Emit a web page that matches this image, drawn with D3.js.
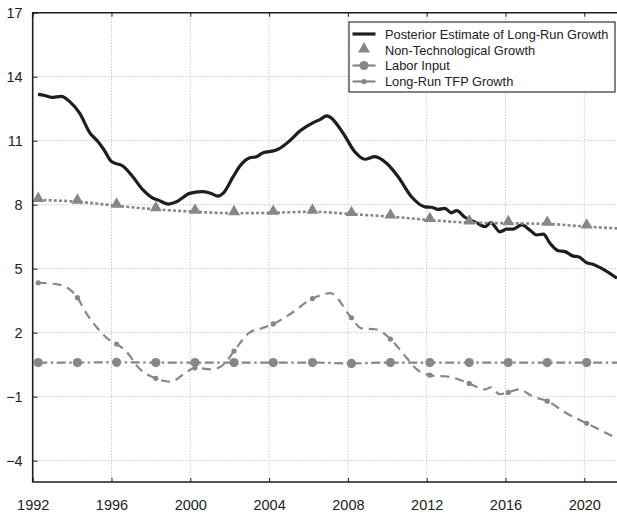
<!DOCTYPE html>
<html>
<head>
<meta charset="utf-8">
<script src="https://cdn.jsdelivr.net/npm/d3@7"></script>
<style>
  html, body { margin: 0; padding: 0; background: #fff; }
  svg { display: block; font-family: "Liberation Sans", Arial, sans-serif; }
</style>
</head>
<body>
<svg id="chart" width="617" height="513"></svg>
<script>
// Axis ticks
const yearTicks = [1992, 1996, 2000, 2004, 2008, 2012, 2016, 2020];
const valueTicks = [-4, -1, 2, 5, 8, 11, 14, 17];

// Posterior estimate of long-run growth
const posteriorYears = [1992.27, 1992.6, 1992.95, 1993.46, 1993.88, 1994.39, 1994.9, 1995.32, 1995.6, 1996.0,
  1996.59, 1997.01, 1997.6, 1998.11, 1998.36, 1998.87, 1999.3, 1999.97, 2000.57, 2000.99,
  2001.41, 2001.66, 2002.17, 2002.51, 2003.02, 2003.36, 2003.7, 2004.29, 2004.54, 2005.05,
  2005.56, 2006.24, 2006.6, 2006.92, 2007.1, 2007.76, 2008.35, 2008.86, 2009.37, 2009.96,
  2010.55, 2011.23, 2011.91, 2012.25, 2012.58, 2012.92, 2013.26, 2013.52, 2013.94, 2014.53,
  2014.96, 2015.25, 2015.72, 2016.06, 2016.39, 2016.82, 2017.24, 2017.58, 2017.92, 2018.26,
  2018.68, 2019.02, 2019.44, 2019.7, 2020.12, 2020.46, 2020.97, 2021.66];
const posteriorValues = [13.17, 13.12, 13.03, 13.08, 12.83, 12.28, 11.37, 10.95, 10.6, 10.02,
  9.8, 9.39, 8.69, 8.3, 8.22, 8.03, 8.14, 8.53, 8.61, 8.55,
  8.4, 8.53, 9.3, 9.8, 10.2, 10.25, 10.44, 10.54, 10.64, 11.0,
  11.45, 11.85, 12.0, 12.16, 12.1, 11.35, 10.48, 10.13, 10.25, 9.94,
  9.31, 8.37, 7.9, 7.88, 7.78, 7.83, 7.62, 7.72, 7.41, 7.16,
  6.97, 7.16, 6.73, 6.85, 6.85, 7.05, 6.81, 6.58, 6.62, 6.19,
  5.84, 5.8, 5.59, 5.56, 5.28, 5.2, 4.97, 4.55];

// Marker positions shared by the gray series
const markerYears = [1992.28, 1994.27, 1996.26, 1998.25, 2000.24, 2002.22, 2004.21, 2006.2,
  2008.18, 2010.16, 2012.16, 2014.16, 2016.14, 2018.12, 2020.12];
const endYear = 2021.66;

// Non-technological growth (at marker years, then series end)
const nonTechValues = [8.22, 8.14, 7.95, 7.78, 7.67, 7.6, 7.62, 7.67, 7.56, 7.44, 7.28, 7.16, 7.13, 7.1, 6.97];
const nonTechEnd = 6.89;

// Labor input (at marker years, then series end)
const laborValues = [0.6, 0.6, 0.61, 0.6, 0.6, 0.6, 0.6, 0.6, 0.56, 0.6, 0.6, 0.6, 0.6, 0.6, 0.6];
const laborEnd = 0.6;

// Long-run TFP growth
const tfpYears = [1992.25, 1993.0, 1993.55, 1994.27, 1994.7, 1995.3, 1995.9, 1996.26, 1996.75, 1997.4,
  1998.25, 1999.0, 1999.8, 2000.24, 2001.1, 2001.75, 2002.22, 2003.0, 2003.6, 2004.21,
  2005.0, 2006.2, 2007.1, 2008.18, 2008.7, 2009.4, 2010.16, 2011.0, 2011.5, 2012.16,
  2013.25, 2014.16, 2014.95, 2015.25, 2015.7, 2016.14, 2016.7, 2017.4, 2018.12, 2019.1,
  2020.12, 2021.66];
const tfpValues = [4.34, 4.3, 4.2, 3.64, 2.94, 2.2, 1.65, 1.47, 1.12, 0.33,
  -0.14, -0.3, 0.15, 0.35, 0.28, 0.56, 1.14, 2.0, 2.2, 2.41,
  2.83, 3.6, 3.85, 2.7, 2.2, 2.16, 1.7, 0.8, 0.28, 0.01,
  -0.09, -0.38, -0.66, -0.56, -0.88, -0.8, -0.66, -1.0, -1.21, -1.78,
  -2.25, -2.95];
const tfpMarkerValues = [4.34, 3.64, 1.47, -0.14, 0.35, 1.14, 2.41, 3.6, 2.7, 1.7, 0.01, -0.38, -0.8, -1.21, -2.25];

const legendLabels = ["Posterior Estimate of Long-Run Growth", "Non-Technological Growth", "Labor Input", "Long-Run TFP Growth"];

const GRAY = "#878787";
const INK = "#1e1e1e";

const svg = d3.select("#chart");
const plotLeft = 32.7, plotTop = 12.7, plotRight = 617, plotBottom = 482;

const x = d3.scaleLinear().domain([1992, endYear]).range([plotLeft, plotRight]);
const y = d3.scaleLinear().domain([-5, 17]).range([plotBottom, plotTop]);

// Grid
const grid = svg.append("g").attr("stroke", "#b4b4b4").attr("stroke-width", 1).attr("stroke-dasharray", "1,2");
grid.selectAll("line.v").data(yearTicks.slice(1)).join("line")
  .attr("x1", d => x(d)).attr("x2", d => x(d)).attr("y1", plotTop).attr("y2", plotBottom);
grid.selectAll("line.h").data(valueTicks.filter(d => d < 17)).join("line")
  .attr("x1", plotLeft).attr("x2", plotRight).attr("y1", d => y(d)).attr("y2", d => y(d));

// Axes
const xAxis = svg.append("g").attr("transform", `translate(0,${plotBottom})`)
  .call(d3.axisBottom(x).tickValues(yearTicks).tickFormat(d3.format("d")).tickSize(-4).tickPadding(18));
const xTop = svg.append("g").attr("transform", `translate(0,${plotTop})`)
  .call(d3.axisTop(x).tickValues(yearTicks).tickFormat("").tickSize(-4));
const yAxis = svg.append("g").attr("transform", `translate(${plotLeft},0)`)
  .call(d3.axisLeft(y).tickValues(valueTicks).tickFormat(d3.format("d")).tickSize(-5).tickPadding(10));
[xAxis, xTop, yAxis].forEach(g => {
  g.select(".domain").remove();
  g.selectAll(".tick line").attr("stroke", INK).attr("stroke-width", 1);
  g.selectAll(".tick text").attr("fill", "#222").style("font-size", "14.5px")
    .style("font-family", "'Liberation Sans', Arial, sans-serif");
});

// Series lines
const line = d3.line().x(d => x(d[0])).y(d => y(d[1])).curve(d3.curveMonotoneX);
const plot = svg.append("g");

plot.append("path")
  .datum(posteriorYears.map((t, i) => [t, posteriorValues[i]]))
  .attr("d", line).attr("fill", "none").attr("stroke", INK).attr("stroke-width", 3.2)
  .attr("stroke-linejoin", "round");

const nonTechPts = markerYears.map((t, i) => [t, nonTechValues[i]]).concat([[endYear, nonTechEnd]]);
plot.append("path").datum(nonTechPts).attr("d", line)
  .attr("fill", "none").attr("stroke", GRAY).attr("stroke-width", 2.6).attr("stroke-dasharray", "3,2.2");

const laborPts = markerYears.map((t, i) => [t, laborValues[i]]).concat([[endYear, laborEnd]]);
plot.append("path").datum(laborPts).attr("d", line)
  .attr("fill", "none").attr("stroke", GRAY).attr("stroke-width", 2.2).attr("stroke-dasharray", "9,3.5,2.5,3.5");

plot.append("path").datum(tfpYears.map((t, i) => [t, tfpValues[i]])).attr("d", line)
  .attr("fill", "none").attr("stroke", GRAY).attr("stroke-width", 2.2).attr("stroke-dasharray", "9,6");

// Markers
const tri = d3.symbol().type(d3.symbolTriangle).size(62);
plot.selectAll("path.tri").data(markerYears.map((t, i) => [t, nonTechValues[i]])).join("path")
  .attr("transform", d => `translate(${x(d[0])},${y(d[1]) - 1.5})`).attr("d", tri).attr("fill", GRAY);
plot.selectAll("circle.lab").data(markerYears.map((t, i) => [t, laborValues[i]])).join("circle")
  .attr("cx", d => x(d[0])).attr("cy", d => y(d[1])).attr("r", 4.6).attr("fill", GRAY);
plot.selectAll("circle.tfp").data(markerYears.map((t, i) => [t, tfpMarkerValues[i]])).join("circle")
  .attr("cx", d => x(d[0])).attr("cy", d => y(d[1])).attr("r", 2.6).attr("fill", GRAY);

// Frame
svg.append("path")
  .attr("d", `M${plotRight},${plotTop}H${plotLeft}V${plotBottom}H${plotRight}`)
  .attr("fill", "none").attr("stroke", INK).attr("stroke-width", 1.6);

// Legend
const lg = svg.append("g");
lg.append("rect").attr("x", 349).attr("y", 22).attr("width", 266).attr("height", 70)
  .attr("fill", "#fff").attr("stroke", "#333").attr("stroke-width", 1.2);
const rowY = [34, 50, 65.5, 81.5];
const sx0 = 352.5, sx1 = 375.5, smid = 364;
lg.append("line").attr("x1", sx0).attr("x2", sx1).attr("y1", rowY[0]).attr("y2", rowY[0])
  .attr("stroke", INK).attr("stroke-width", 3.2);
lg.append("path").attr("transform", `translate(${smid},${rowY[1] - 1})`).attr("d", tri).attr("fill", GRAY);
lg.append("line").attr("x1", sx0).attr("x2", sx1).attr("y1", rowY[2]).attr("y2", rowY[2])
  .attr("stroke", GRAY).attr("stroke-width", 2.2);
lg.append("circle").attr("cx", smid).attr("cy", rowY[2]).attr("r", 4.6).attr("fill", GRAY);
lg.append("line").attr("x1", sx0).attr("x2", sx1).attr("y1", rowY[3]).attr("y2", rowY[3])
  .attr("stroke", GRAY).attr("stroke-width", 2.2);
lg.append("circle").attr("cx", smid).attr("cy", rowY[3]).attr("r", 2.6).attr("fill", GRAY);
lg.selectAll("text").data(legendLabels).join("text")
  .attr("x", 385).attr("y", (d, i) => rowY[i]).attr("dy", "0.36em")
  .attr("fill", "#222").style("font-size", "12.8px").text(d => d);
</script>
</body>
</html>
